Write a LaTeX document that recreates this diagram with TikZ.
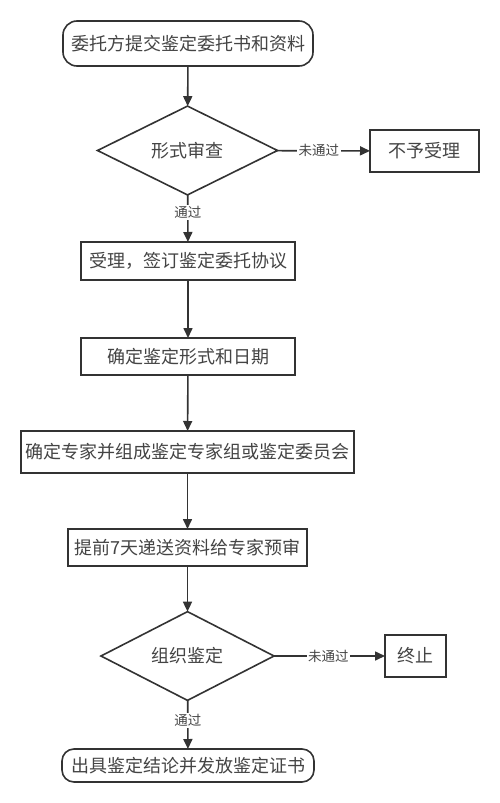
\documentclass[tikz,border=0pt]{standalone}
\usepackage{fontspec}
\setmainfont{Noto Sans CJK SC}
\usetikzlibrary{shapes.geometric,arrows.meta}
\definecolor{linec}{HTML}{333333}
\definecolor{textc}{HTML}{444444}
\begin{document}
\begin{tikzpicture}[x=1pt,y=-1pt,
  every node/.style={text=textc,inner sep=0pt,outer sep=0pt},
  base/.style={draw=linec,line width=1.6pt,font=\fontsize{18}{20}\selectfont},
  terminal/.style={base,rectangle,rounded corners=14pt},
  procbox/.style={base,rectangle},
  endbox/.style={base,rectangle,line width=2.2pt},
  decision/.style={base,diamond},
  conn/.style={draw=linec,line width=1.6pt,-{Triangle[length=10pt,width=9pt]}},
  lbl/.style={fill=white,inner sep=1.5pt,font=\fontsize{13.5}{15}\selectfont}]
\useasboundingbox (0,0) rectangle (500,803);
\fill[white] (0,0) rectangle (500,803);

\node[terminal,minimum width=250pt,minimum height=45pt] (start) at (188,43.5) {委托方提交鉴定委托书和资料};
\node[decision,minimum width=180pt,minimum height=65pt] (d1) at (187.5,150.5) {形式审查};
\node[endbox,minimum width=109pt,minimum height=42pt] (reject) at (424.5,151) {不予受理};
\node[procbox,minimum width=214pt,minimum height=38pt] (b2) at (188,261) {受理，签订鉴定委托协议};
\node[procbox,minimum width=214pt,minimum height=37pt] (b3) at (188,356.5) {确定鉴定形式和日期};
\node[procbox,minimum width=333pt,minimum height=42pt] (b4) at (187.5,452) {确定专家并组成鉴定专家组或鉴定委员会};
\node[procbox,minimum width=239pt,minimum height=37pt] (b5) at (187.5,547.5) {提前7天递送资料给专家预审};
\node[decision,minimum width=173pt,minimum height=68pt] (d2) at (187.5,656) {组织鉴定};
\node[endbox,minimum width=61pt,minimum height=42pt] (stop) at (415.5,656) {终止};
\node[terminal,minimum width=252pt,minimum height=33pt,rounded corners=12pt] (end) at (188,765.5) {出具鉴定结论并发放鉴定证书};

\draw[conn] (start) -- (d1);
\draw[conn] (d1) -- node[lbl,pos=0.45] {未通过} (reject);
\draw[conn] (d1) -- node[lbl,pos=0.37] {通过} (b2);
\draw[conn] (b2) -- (b3);
\draw[conn] (b3) -- (b4);
\draw[conn] (b4) -- (b5);
\draw[conn] (b5) -- (d2);
\draw[conn] (d2) -- node[lbl,pos=0.49] {未通过} (stop);
\draw[conn] (d2) -- node[lbl,pos=0.42] {通过} (end);
\end{tikzpicture}
\end{document}
